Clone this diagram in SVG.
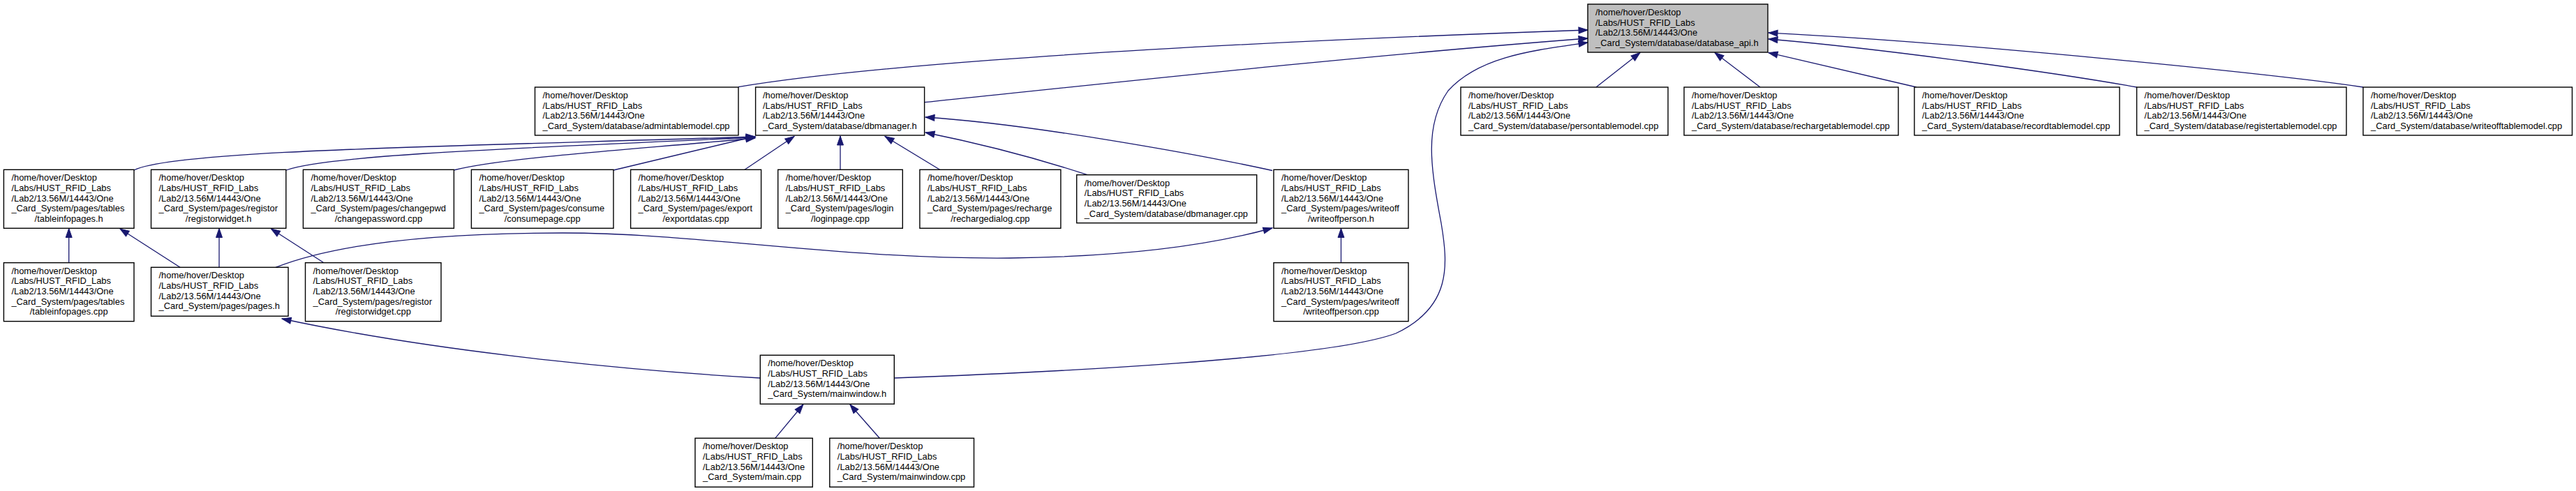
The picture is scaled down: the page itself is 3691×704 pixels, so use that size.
<svg xmlns="http://www.w3.org/2000/svg" width="3691" height="704" viewBox="0 0 3691 704">
<style>
.node rect{fill:#ffffff;stroke:#000000;stroke-width:1.4}
.node.root rect{fill:#bfbfbf}
.node text{font-family:"Liberation Sans",Arial,sans-serif;font-size:12.9px;fill:#000000}
.node .c{text-anchor:middle}
#edges path{fill:none;stroke:#191970;stroke-width:1.3;marker-end:url(#ah)}
</style>
<defs>
<marker id="ah" markerUnits="userSpaceOnUse" markerWidth="14" markerHeight="10" refX="13" refY="4.5" orient="auto" overflow="visible">
<path d="M0,0 L13,4.5 L0,9 z" fill="#191970" stroke="#191970" stroke-width="1"/>
</marker>
</defs>
<rect x="0" y="0" width="3691" height="704" fill="#ffffff"/>

<g id="edges">
<path d="M1058,124.7 C1180,104 1500,70 2275,43"/>
<path d="M1324.6,146.7 C1600,118 1950,80 2275,55"/>
<path d="M1281,542 C1500,534 1900,515 2000,478 C2080,440 2075,380 2065,320 C2050,240 2040,180 2075,130 C2120,80 2200,72 2275,61"/>
<path d="M2287,125 L2350,75.5"/>
<path d="M2522,125 L2457,75.5"/>
<path d="M2746,125 L2534,75.5"/>
<path d="M3061.6,125 C2950,105 2700,70 2534,56"/>
<path d="M3386,125 C3250,105 2800,60 2534,47"/>
<path d="M192,244 C250,215 650,210 1082,196"/>
<path d="M410,244 C470,222 750,212 1082,197"/>
<path d="M650,244 C720,226 900,215 1082,198"/>
<path d="M879,244 L1082,195.5"/>
<path d="M1067,243.3 L1138,195.5"/>
<path d="M1204,243.3 L1204,195"/>
<path d="M1346.6,243.3 L1268,195.5"/>
<path d="M1558,250.7 C1480,225 1400,205 1326,190"/>
<path d="M1823,244.5 C1720,222 1480,178 1326,168"/>
<path d="M98.7,376.7 L98.7,327.5"/>
<path d="M258,383.3 L172,328"/>
<path d="M314,383.3 L314,327.5"/>
<path d="M464,376.7 L388.4,328"/>
<path d="M395,383.3 C480,350 620,334 806,334 C1000,334 1200,372 1447,370 C1620,368 1740,350 1823,327"/>
<path d="M1089,542 C950,534 650,510 404,457"/>
<path d="M1921.5,376.7 L1921.5,327.5"/>
<path d="M1110.7,628.3 L1150.9,580"/>
<path d="M1260.3,628.3 L1217.9,580"/>
</g>

<g id="n_api" class="node root">
<rect x="2275" y="6" width="258" height="69"/>
<text><tspan x="2286" y="21.8">/home/hover/Desktop</tspan><tspan x="2286" y="36.5">/Labs/HUST_RFID_Labs</tspan><tspan x="2286" y="51.2">/Lab2/13.56M/14443/One</tspan><tspan x="2286" y="65.9">_Card_System/database/database_api.h</tspan></text>
</g>

<g id="n_admin" class="node">
<rect x="766.5" y="125" width="291.5" height="69"/>
<text><tspan x="777.5" y="140.8">/home/hover/Desktop</tspan><tspan x="777.5" y="155.5">/Labs/HUST_RFID_Labs</tspan><tspan x="777.5" y="170.2">/Lab2/13.56M/14443/One</tspan><tspan x="777.5" y="184.9">_Card_System/database/admintablemodel.cpp</tspan></text>
</g>

<g id="n_dbmanager_h" class="node">
<rect x="1082.6" y="125" width="242" height="69"/>
<text><tspan x="1093" y="140.8">/home/hover/Desktop</tspan><tspan x="1093" y="155.5">/Labs/HUST_RFID_Labs</tspan><tspan x="1093" y="170.2">/Lab2/13.56M/14443/One</tspan><tspan x="1093" y="184.9">_Card_System/database/dbmanager.h</tspan></text>
</g>

<g id="n_person" class="node">
<rect x="2093" y="125" width="297" height="69"/>
<text><tspan x="2104" y="140.8">/home/hover/Desktop</tspan><tspan x="2104" y="155.5">/Labs/HUST_RFID_Labs</tspan><tspan x="2104" y="170.2">/Lab2/13.56M/14443/One</tspan><tspan x="2104" y="184.9">_Card_System/database/persontablemodel.cpp</tspan></text>
</g>

<g id="n_rechargetm" class="node">
<rect x="2413" y="125" width="307" height="69"/>
<text><tspan x="2424" y="140.8">/home/hover/Desktop</tspan><tspan x="2424" y="155.5">/Labs/HUST_RFID_Labs</tspan><tspan x="2424" y="170.2">/Lab2/13.56M/14443/One</tspan><tspan x="2424" y="184.9">_Card_System/database/rechargetablemodel.cpp</tspan></text>
</g>

<g id="n_record" class="node">
<rect x="2743" y="125" width="294" height="69"/>
<text><tspan x="2754" y="140.8">/home/hover/Desktop</tspan><tspan x="2754" y="155.5">/Labs/HUST_RFID_Labs</tspan><tspan x="2754" y="170.2">/Lab2/13.56M/14443/One</tspan><tspan x="2754" y="184.9">_Card_System/database/recordtablemodel.cpp</tspan></text>
</g>

<g id="n_register" class="node">
<rect x="3061.6" y="125" width="300.4" height="69"/>
<text><tspan x="3072.6" y="140.8">/home/hover/Desktop</tspan><tspan x="3072.6" y="155.5">/Labs/HUST_RFID_Labs</tspan><tspan x="3072.6" y="170.2">/Lab2/13.56M/14443/One</tspan><tspan x="3072.6" y="184.9">_Card_System/database/registertablemodel.cpp</tspan></text>
</g>

<g id="n_writeofftm" class="node">
<rect x="3386" y="125" width="299.5" height="69"/>
<text><tspan x="3397" y="140.8">/home/hover/Desktop</tspan><tspan x="3397" y="155.5">/Labs/HUST_RFID_Labs</tspan><tspan x="3397" y="170.2">/Lab2/13.56M/14443/One</tspan><tspan x="3397" y="184.9">_Card_System/database/writeofftablemodel.cpp</tspan></text>
</g>

<g id="n_tableinfopages_h" class="node">
<rect x="5.4" y="243.3" width="186.6" height="84"/>
<text><tspan x="16.4" y="259.1">/home/hover/Desktop</tspan><tspan x="16.4" y="273.8">/Labs/HUST_RFID_Labs</tspan><tspan x="16.4" y="288.5">/Lab2/13.56M/14443/One</tspan><tspan x="16.4" y="303.2">_Card_System/pages/tables</tspan><tspan class="c" x="98.7" y="317.9">/tableinfopages.h</tspan></text>
</g>

<g id="n_registorwidget_h" class="node">
<rect x="216.5" y="243.3" width="193.3" height="84"/>
<text><tspan x="227.5" y="259.1">/home/hover/Desktop</tspan><tspan x="227.5" y="273.8">/Labs/HUST_RFID_Labs</tspan><tspan x="227.5" y="288.5">/Lab2/13.56M/14443/One</tspan><tspan x="227.5" y="303.2">_Card_System/pages/registor</tspan><tspan class="c" x="313.15" y="317.9">/registorwidget.h</tspan></text>
</g>

<g id="n_changepassword" class="node">
<rect x="434.4" y="243.3" width="216" height="84"/>
<text><tspan x="445.4" y="259.1">/home/hover/Desktop</tspan><tspan x="445.4" y="273.8">/Labs/HUST_RFID_Labs</tspan><tspan x="445.4" y="288.5">/Lab2/13.56M/14443/One</tspan><tspan x="445.4" y="303.2">_Card_System/pages/changepwd</tspan><tspan class="c" x="542.4" y="317.9">/changepassword.cpp</tspan></text>
</g>

<g id="n_consumepage" class="node">
<rect x="675.4" y="243.3" width="203.6" height="84"/>
<text><tspan x="686.4" y="259.1">/home/hover/Desktop</tspan><tspan x="686.4" y="273.8">/Labs/HUST_RFID_Labs</tspan><tspan x="686.4" y="288.5">/Lab2/13.56M/14443/One</tspan><tspan x="686.4" y="303.2">_Card_System/pages/consume</tspan><tspan class="c" x="777.2" y="317.9">/consumepage.cpp</tspan></text>
</g>

<g id="n_exportdatas" class="node">
<rect x="903.6" y="243.3" width="187" height="84"/>
<text><tspan x="914.6" y="259.1">/home/hover/Desktop</tspan><tspan x="914.6" y="273.8">/Labs/HUST_RFID_Labs</tspan><tspan x="914.6" y="288.5">/Lab2/13.56M/14443/One</tspan><tspan x="914.6" y="303.2">_Card_System/pages/export</tspan><tspan class="c" x="997.1" y="317.9">/exportdatas.cpp</tspan></text>
</g>

<g id="n_loginpage" class="node">
<rect x="1114.7" y="243.3" width="178.6" height="84"/>
<text><tspan x="1125.7" y="259.1">/home/hover/Desktop</tspan><tspan x="1125.7" y="273.8">/Labs/HUST_RFID_Labs</tspan><tspan x="1125.7" y="288.5">/Lab2/13.56M/14443/One</tspan><tspan x="1125.7" y="303.2">_Card_System/pages/login</tspan><tspan class="c" x="1204" y="317.9">/loginpage.cpp</tspan></text>
</g>

<g id="n_rechargedialog" class="node">
<rect x="1317.9" y="243.3" width="202" height="84"/>
<text><tspan x="1328.9" y="259.1">/home/hover/Desktop</tspan><tspan x="1328.9" y="273.8">/Labs/HUST_RFID_Labs</tspan><tspan x="1328.9" y="288.5">/Lab2/13.56M/14443/One</tspan><tspan x="1328.9" y="303.2">_Card_System/pages/recharge</tspan><tspan class="c" x="1418.9" y="317.9">/rechargedialog.cpp</tspan></text>
</g>

<g id="n_dbmanager_cpp" class="node">
<rect x="1542.7" y="250.7" width="258" height="69"/>
<text><tspan x="1553.7" y="266.5">/home/hover/Desktop</tspan><tspan x="1553.7" y="281.2">/Labs/HUST_RFID_Labs</tspan><tspan x="1553.7" y="295.9">/Lab2/13.56M/14443/One</tspan><tspan x="1553.7" y="310.6">_Card_System/database/dbmanager.cpp</tspan></text>
</g>

<g id="n_writeoffperson_h" class="node">
<rect x="1825" y="243.3" width="193" height="84"/>
<text><tspan x="1836" y="259.1">/home/hover/Desktop</tspan><tspan x="1836" y="273.8">/Labs/HUST_RFID_Labs</tspan><tspan x="1836" y="288.5">/Lab2/13.56M/14443/One</tspan><tspan x="1836" y="303.2">_Card_System/pages/writeoff</tspan><tspan class="c" x="1921.5" y="317.9">/writeoffperson.h</tspan></text>
</g>

<g id="n_tableinfopages_cpp" class="node">
<rect x="5.4" y="376.7" width="186.6" height="84"/>
<text><tspan x="16.4" y="392.5">/home/hover/Desktop</tspan><tspan x="16.4" y="407.2">/Labs/HUST_RFID_Labs</tspan><tspan x="16.4" y="421.9">/Lab2/13.56M/14443/One</tspan><tspan x="16.4" y="436.6">_Card_System/pages/tables</tspan><tspan class="c" x="98.7" y="451.3">/tableinfopages.cpp</tspan></text>
</g>

<g id="n_pages_h" class="node">
<rect x="216.5" y="383.3" width="196.5" height="70"/>
<text><tspan x="227.5" y="399.1">/home/hover/Desktop</tspan><tspan x="227.5" y="413.8">/Labs/HUST_RFID_Labs</tspan><tspan x="227.5" y="428.5">/Lab2/13.56M/14443/One</tspan><tspan x="227.5" y="443.2">_Card_System/pages/pages.h</tspan></text>
</g>

<g id="n_registorwidget_cpp" class="node">
<rect x="437.5" y="376.7" width="194.5" height="84"/>
<text><tspan x="448.5" y="392.5">/home/hover/Desktop</tspan><tspan x="448.5" y="407.2">/Labs/HUST_RFID_Labs</tspan><tspan x="448.5" y="421.9">/Lab2/13.56M/14443/One</tspan><tspan x="448.5" y="436.6">_Card_System/pages/registor</tspan><tspan class="c" x="534.75" y="451.3">/registorwidget.cpp</tspan></text>
</g>

<g id="n_writeoffperson_cpp" class="node">
<rect x="1825" y="376.7" width="193" height="84"/>
<text><tspan x="1836" y="392.5">/home/hover/Desktop</tspan><tspan x="1836" y="407.2">/Labs/HUST_RFID_Labs</tspan><tspan x="1836" y="421.9">/Lab2/13.56M/14443/One</tspan><tspan x="1836" y="436.6">_Card_System/pages/writeoff</tspan><tspan class="c" x="1921.5" y="451.3">/writeoffperson.cpp</tspan></text>
</g>

<g id="n_mainwindow_h" class="node">
<rect x="1089.3" y="509.3" width="192" height="70"/>
<text><tspan x="1100.3" y="525.1">/home/hover/Desktop</tspan><tspan x="1100.3" y="539.8">/Labs/HUST_RFID_Labs</tspan><tspan x="1100.3" y="554.5">/Lab2/13.56M/14443/One</tspan><tspan x="1100.3" y="569.2">_Card_System/mainwindow.h</tspan></text>
</g>

<g id="n_main_cpp" class="node">
<rect x="996" y="628.3" width="168.3" height="70"/>
<text><tspan x="1007" y="644.1">/home/hover/Desktop</tspan><tspan x="1007" y="658.8">/Labs/HUST_RFID_Labs</tspan><tspan x="1007" y="673.5">/Lab2/13.56M/14443/One</tspan><tspan x="1007" y="688.2">_Card_System/main.cpp</tspan></text>
</g>

<g id="n_mainwindow_cpp" class="node">
<rect x="1188.8" y="628.3" width="206.7" height="70"/>
<text><tspan x="1199.8" y="644.1">/home/hover/Desktop</tspan><tspan x="1199.8" y="658.8">/Labs/HUST_RFID_Labs</tspan><tspan x="1199.8" y="673.5">/Lab2/13.56M/14443/One</tspan><tspan x="1199.8" y="688.2">_Card_System/mainwindow.cpp</tspan></text>
</g>
</svg>
